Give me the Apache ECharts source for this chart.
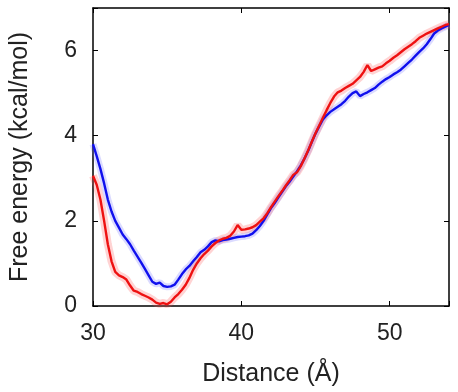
<!DOCTYPE html>
<html>
<head>
<meta charset="utf-8">
<script src="https://cdn.jsdelivr.net/npm/echarts@6/dist/echarts.min.js"></script>
<style>html,body{margin:0;padding:0;background:#fff}#c{width:458px;height:392px}</style>
</head>
<body>
<div id="c"></div>
<script>
var distance = [];
for (var i = 0; i <= 96; i++) distance.push(30 + i * 0.25);

var blueEnergy = [3.80,3.52,3.22,2.88,2.50,2.22,2.00,1.84,1.68,1.57,1.45,1.30,1.16,1.02,0.87,0.72,
0.57,0.52,0.55,0.47,0.45,0.46,0.50,0.62,0.75,0.86,0.94,1.05,1.15,1.26,1.32,1.40,
1.50,1.54,1.52,1.55,1.56,1.58,1.60,1.62,1.63,1.64,1.66,1.70,1.78,1.88,2.00,2.15,
2.30,2.42,2.55,2.68,2.81,2.92,3.04,3.16,3.30,3.46,3.64,3.85,4.05,4.22,4.38,4.48,
4.56,4.62,4.68,4.74,4.82,4.92,5.00,5.04,4.93,4.98,5.02,5.07,5.12,5.20,5.27,5.33,
5.38,5.44,5.49,5.55,5.63,5.71,5.79,5.88,5.97,6.05,6.15,6.27,6.40,6.47,6.52,6.56,6.60];

var redEnergy = [3.06,2.85,2.50,2.00,1.45,1.05,0.80,0.72,0.68,0.62,0.48,0.36,0.33,0.28,0.24,0.20,
0.15,0.08,0.05,0.07,0.04,0.10,0.20,0.28,0.38,0.50,0.66,0.85,1.00,1.12,1.22,1.30,
1.40,1.48,1.54,1.58,1.60,1.65,1.75,1.90,1.79,1.80,1.82,1.85,1.90,1.98,2.06,2.18,
2.32,2.45,2.58,2.70,2.83,2.95,3.08,3.14,3.28,3.46,3.65,3.86,4.06,4.24,4.42,4.60,
4.77,4.92,5.02,5.06,5.12,5.17,5.22,5.30,5.38,5.50,5.66,5.52,5.56,5.60,5.63,5.70,
5.76,5.83,5.89,5.96,6.03,6.09,6.15,6.22,6.30,6.35,6.40,6.44,6.48,6.52,6.56,6.60,6.62];

var xTicks = [30, 40, 50];
var yTicks = [0, 2, 4, 6];

function pairs(ys){ return distance.map(function(x,i){ return [x, ys[i]]; }); }

var font = 'Liberation Sans, Arial, sans-serif';
var chart = echarts.init(document.getElementById('c'), null, {renderer:'canvas'});
function xAx(pos, showLabel){
  return {type:'value', position:pos, min:30, max:54, interval:10,
    name: showLabel ? 'Distance (Å)' : '', nameLocation:'middle', nameGap:56,
    nameTextStyle:{fontFamily:font, fontSize:25, color:'#222'},
    axisLine:{show:true, onZero:false, lineStyle:{color:'#000', width:1.5}},
    axisTick:{show:true, inside:true, length:5, lineStyle:{color:'#000', width:1}},
    axisLabel:{show:showLabel, fontFamily:font, fontSize:23, color:'#222', margin:16,
      formatter:function(v){ return xTicks.indexOf(v)>=0 ? String(v) : ''; }},
    splitLine:{show:false}};
}
function yAx(pos, showLabel){
  return {type:'value', position:pos, min:0, max:7, interval:2,
    name: showLabel ? 'Free energy (kcal/mol)' : '', nameLocation:'middle', nameGap:60,
    nameTextStyle:{fontFamily:font, fontSize:25, color:'#222'},
    axisLine:{show:true, onZero:false, lineStyle:{color:'#000', width:1.5}},
    axisTick:{show:true, inside:true, length:5, lineStyle:{color:'#000', width:1}},
    axisLabel:{show:showLabel, fontFamily:font, fontSize:23, color:'#222', margin:16,
      formatter:function(v){ return yTicks.indexOf(v)>=0 ? String(v) : ''; }},
    splitLine:{show:false}};
}
chart.setOption({
  animation:false,
  backgroundColor:'#fff',
  grid:{left:93, right:9, top:8, bottom:86, show:false, containLabel:false, outerBoundsMode:'none'},
  xAxis:[xAx('bottom', true), xAx('top', false)],
  yAxis:[yAx('left', true), yAx('right', false)],
  series:[
    {type:'line', data:pairs(blueEnergy), showSymbol:false, symbol:'none', z:1,
      lineStyle:{color:'rgba(90,90,255,0.22)', width:7}},
    {type:'line', data:pairs(redEnergy), showSymbol:false, symbol:'none', z:1,
      lineStyle:{color:'rgba(255,80,80,0.25)', width:8}},
    {type:'line', data:pairs(blueEnergy), showSymbol:false, symbol:'none', z:2,
      lineStyle:{color:'#1010ee', width:2.4}},
    {type:'line', data:pairs(redEnergy), showSymbol:false, symbol:'none', z:3,
      lineStyle:{color:'#ee1111', width:2.4}}
  ]
});
</script>
</body>
</html>
